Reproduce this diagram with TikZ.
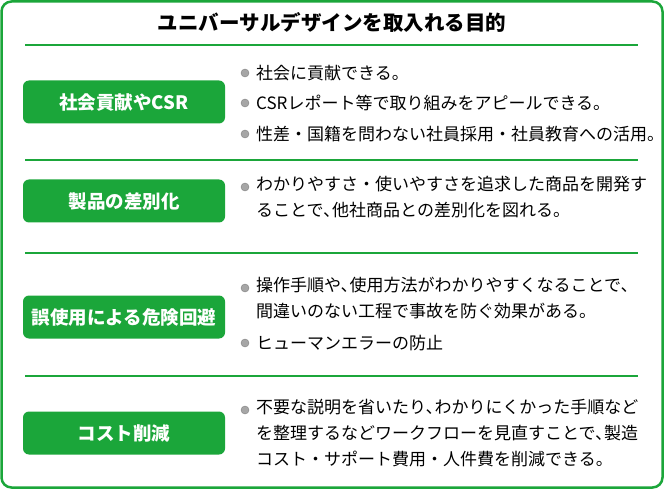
\documentclass[tikz,border=0pt]{standalone}
\usepackage{fontspec}
\setmainfont{Noto Sans CJK JP}
\definecolor{grn}{HTML}{1BA63A}
\begin{document}
\begin{tikzpicture}[x=1pt,y=-1pt,
  hdr/.style={fill=grn,rounded corners=6pt,minimum width=202pt,minimum height=43pt,text=white,font=\fontsize{18.5}{20}\selectfont\bfseries},
  itm/.style={anchor=west,font=\fontsize{17}{26}\selectfont,inner sep=0pt,align=left},
  dot/.style={circle,fill=gray!70,draw=gray,inner sep=0pt,minimum size=8pt},
  sep/.style={draw=grn,line width=1.5pt}]
\useasboundingbox (0,0) rectangle (664,489);
\draw[grn,line width=2.5pt,rounded corners=10pt] (1.5,1.5) rectangle (662.5,487.5);
\node[font=\fontsize{20.5}{22}\selectfont\bfseries] (t) at (332,22) {ユニバーサルデザインを取入れる目的};
\foreach \y/\n in {45/a,160/b,253/c,376/d}{\coordinate (\n1) at (25,\y); \coordinate (\n2) at (638,\y); \draw[sep] (\n1)--(\n2);}
\node[hdr] (h1) at (124,102) {社会貢献やCSR};
\node[hdr] (h2) at (124,201) {製品の差別化};
\node[hdr] (h3) at (124,317) {誤使用による危険回避};
\node[hdr] (h4) at (124,433) {コスト削減};
\foreach \y/\n in {73/p1,103/p2,134/p3,187/p4,288/p5,343/p6,410/p7}{\node[dot] (\n) at (245,\y) {};}
\node[itm] (i1) at (256,73) {社会に貢献できる。};
\node[itm] (i2) at (256,103) {CSRレポート等で取り組みをアピールできる。};
\node[itm] (i3) at (256,134) {性差・国籍を問わない社員採用・社員教育への活用。};
\node[itm,anchor=north west] (i4) at (256,176) {わかりやすさ・使いやすさを追求した商品を開発す\\ることで､他社商品との差別化を図れる。};
\node[itm,anchor=north west] (i5) at (256,277) {操作手順や､使用方法がわかりやすくなることで､\\間違いのない工程で事故を防ぐ効果がある。};
\node[itm] (i6) at (256,343) {ヒューマンエラーの防止};
\node[itm,anchor=north west] (i7) at (256,399) {不要な説明を省いたり､わかりにくかった手順など\\を整理するなどワークフローを見直すことで､製造\\コスト・サポート費用・人件費を削減できる。};
\end{tikzpicture}
\end{document}
